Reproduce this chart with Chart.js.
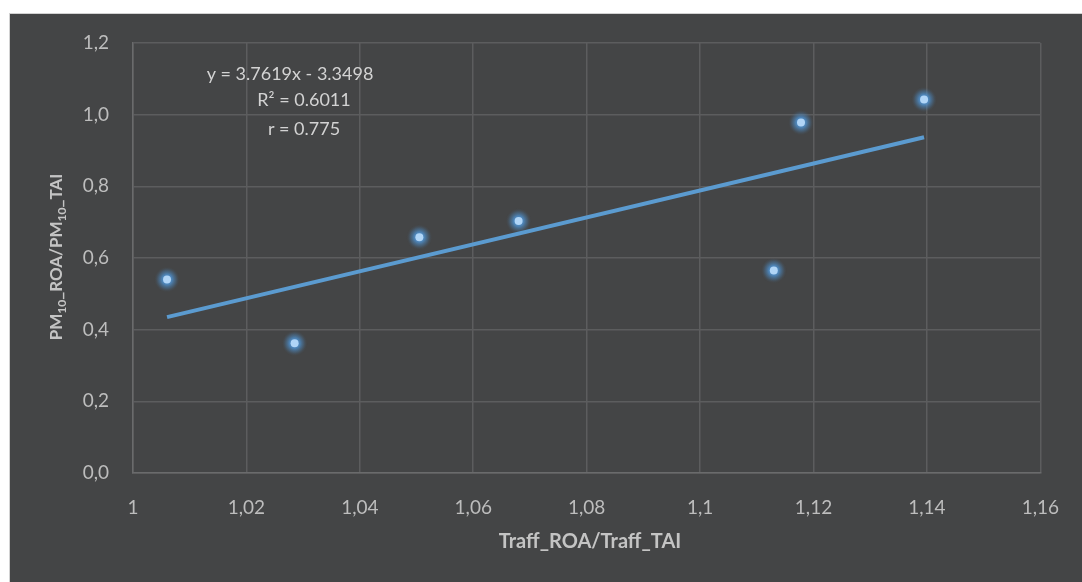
<!DOCTYPE html>
<html lang="en">
<head>
  <meta charset="UTF-8" />
  <title>PM10 vs Traffic ratio</title>
  <script src="https://cdn.jsdelivr.net/npm/chart.js"></script>
  <style>
    body {
      margin: 0;
      background: #fff;
      width: 1082px;
      height: 582px;
      overflow: hidden;
    }
    #frame {
      position: absolute;
      left: 9px;
      top: 13px;
      width: 1073px;
      height: 569px;
      box-sizing: border-box;
      background: #444546;
      border: 1px solid #d2d2d2;
      border-right: none;
      border-bottom: none;
    }
    #myChart {
      position: absolute;
      left: 0;
      top: 0;
    }
  </style>
</head>
<body>
  <div id="frame"></div>
  <canvas id="myChart" width="1082" height="582"></canvas>

<script>
  // measured points (ratio of traffic vs ratio of PM10)
  const trafficRatio = [1.006, 1.0285, 1.0505, 1.068, 1.113, 1.1178, 1.1395];
  const pmRatio = [0.540, 0.362, 0.658, 0.703, 0.565, 0.978, 1.042];

  // linear trendline end points
  const trendX = [1.006, 1.1395];
  const trendY = [0.435, 0.937];

  const xTickLabels = ['1', '1,02', '1,04', '1,06', '1,08', '1,1', '1,12', '1,14', '1,16'];
  const yTickLabels = ['0,0', '0,2', '0,4', '0,6', '0,8', '1,0', '1,2'];

  const equationLines = ['y = 3.7619x - 3.3498', 'R\u00B2 = 0.6011', 'r = 0.775'];

  const FONT = 'Lato, "Open Sans", sans-serif';
  const gridColor = '#5c5d5e';

  // soft halo under each marker, placed from the point elements
  const haloPlugin = {
    id: 'halo',
    beforeDatasetDraw(chart, args) {
      if (args.index !== 1) return;
      const ctx = chart.ctx;
      ctx.save();
      args.meta.data.forEach(el => {
        const g = ctx.createRadialGradient(el.x, el.y, 0, el.x, el.y, 13);
        g.addColorStop(0, 'rgba(100,170,235,1)');
        g.addColorStop(0.4, 'rgba(80,150,215,0.75)');
        g.addColorStop(0.7, 'rgba(75,130,180,0.35)');
        g.addColorStop(1, 'rgba(70,75,80,0)');
        ctx.fillStyle = g;
        ctx.beginPath();
        ctx.arc(el.x, el.y, 13, 0, Math.PI * 2);
        ctx.fill();
      });
      ctx.restore();
    }
  };

  // axis titles and the equation box
  const labelsPlugin = {
    id: 'labels',
    afterDraw(chart) {
      const ctx = chart.ctx;
      ctx.save();

      // equation text
      ctx.fillStyle = '#d3d3d3';
      ctx.font = '18px ' + FONT;
      ctx.textAlign = 'center';
      ctx.textBaseline = 'middle';
      ctx.fillText(equationLines[0], 290, 74);
      ctx.fillText(equationLines[1], 304, 100);
      ctx.fillText(equationLines[2], 304, 129);

      // x title
      ctx.fillStyle = '#c4c4c4';
      ctx.font = 'bold 20px ' + FONT;
      ctx.fillText('Traff_ROA/Traff_TAI', 590, 542);

      // y title with subscripts
      const parts = [
        ['PM', false], ['10', true], ['_ROA/PM', false], ['10', true], ['_TAI', false]
      ];
      const big = 'bold 17px ' + FONT;
      const small = 'bold 12px ' + FONT;
      let total = 0;
      parts.forEach(p => {
        ctx.font = p[1] ? small : big;
        total += ctx.measureText(p[0]).width;
      });
      ctx.translate(57, 257);
      ctx.rotate(-Math.PI / 2);
      ctx.textAlign = 'left';
      let pos = -total / 2;
      parts.forEach(p => {
        ctx.font = p[1] ? small : big;
        ctx.fillText(p[0], pos, p[1] ? 5 : 0);
        pos += ctx.measureText(p[0]).width;
      });
      ctx.restore();
    }
  };

  const ctx = document.getElementById('myChart').getContext('2d');
  new Chart(ctx, {
    type: 'scatter',
    data: {
      datasets: [
        {
          label: 'Trend',
          type: 'line',
          data: trendX.map((x, i) => ({ x: x, y: trendY[i] })),
          borderColor: '#5b9bd0',
          borderWidth: 4,
          pointRadius: 0,
          fill: false
        },
        {
          label: 'PM10',
          data: trafficRatio.map((x, i) => ({ x: x, y: pmRatio[i] })),
          backgroundColor: '#b0d5f7',
          borderWidth: 0,
          pointRadius: 4
        }
      ]
    },
    options: {
      responsive: false,
      animation: false,
      layout: { padding: { top: 43, right: 35, left: 0, bottom: 0 } },
      plugins: {
        legend: { display: false },
        tooltip: { enabled: false }
      },
      scales: {
        x: {
          type: 'linear',
          min: 1,
          max: 1.16,
          afterFit: s => { s.height = 109; },
          afterBuildTicks: s => {
            s.ticks = xTickLabels.map((t, i) => ({ value: 1 + i * 0.02 }));
          },
          ticks: {
            callback: (v, i) => xTickLabels[i],
            color: '#bdbdbd',
            font: { family: FONT, size: 19 },
            padding: 23,
            maxRotation: 0
          },
          grid: { color: gridColor, lineWidth: 1.5, drawTicks: false },
          border: { color: '#6a6b6c', width: 1.5 }
        },
        y: {
          min: 0,
          max: 1.2,
          afterFit: s => { s.width = 133; },
          afterBuildTicks: s => {
            s.ticks = yTickLabels.map((t, i) => ({ value: i * 0.2 }));
          },
          ticks: {
            callback: (v, i) => yTickLabels[i],
            color: '#bdbdbd',
            font: { family: FONT, size: 19 },
            padding: 24
          },
          grid: { color: gridColor, lineWidth: 1.5, drawTicks: false },
          border: { color: '#6a6b6c', width: 1.5 }
        }
      }
    },
    plugins: [haloPlugin, labelsPlugin]
  });
</script>
</body>
</html>
